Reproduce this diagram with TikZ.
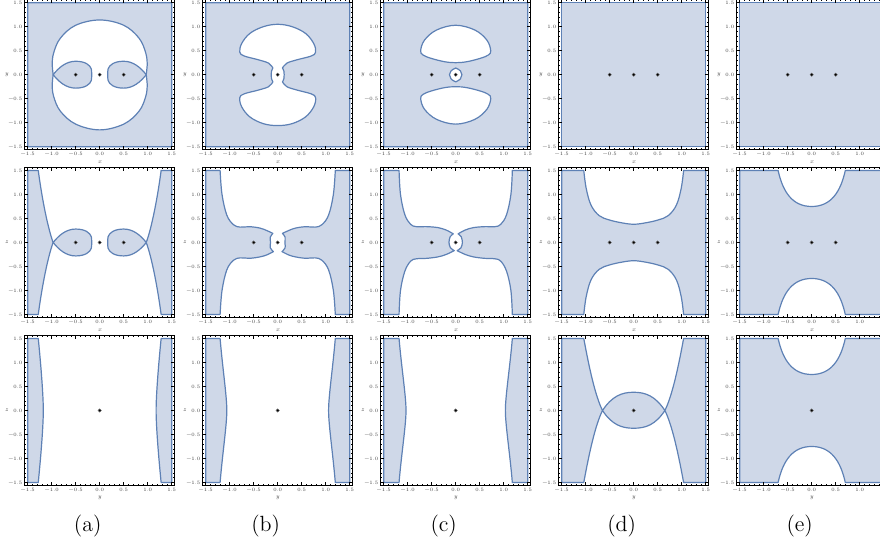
\documentclass[tikz,border=0pt]{standalone}
\usepackage{fontspec}
\usepackage{xcolor}
\usepackage{tikz}
\usetikzlibrary{calc}

\definecolor{zonefill}{RGB}{207,216,232}
\definecolor{zoneline}{RGB}{94,129,181}

\tikzset{
  region/.style={fill=zonefill, draw=zoneline, line width=0.6pt, line join=round},
  frame/.style={draw=black, line width=0.6pt},
  tick/.style={black, line width=0.3pt},
  ticklab/.style={inner sep=0pt, text=black!75, font=\fontsize{2.5}{3}\selectfont},
  axlab/.style={inner sep=0pt, text=black!75, font=\fontsize{3}{3.5}\selectfont\itshape},
  charge/.style={circle, fill=black, draw=black!55, line width=0.2pt, inner sep=0pt, minimum size=1.7pt},
  sublab/.style={inner sep=0pt, font=\fontsize{11}{13}\selectfont}
}

% cadre gradue : #1 nom, #2 axe horizontal, #3 axe vertical
\newcommand{\cadre}[3]{%
  \draw[frame] (-1.5625,-1.5625) rectangle (1.5625,1.5625);
  \foreach \t in {-15,...,15} {
    \draw[tick] ({\t/10},-1.5625) -- ++(0,0.035);
    \draw[tick] ({\t/10},1.5625) -- ++(0,-0.035);
    \draw[tick] (-1.5625,{\t/10}) -- ++(0.035,0);
    \draw[tick] (1.5625,{\t/10}) -- ++(-0.035,0);
  }
  \foreach \t in {-3,...,3} {
    \draw[tick] ({\t/2},-1.5625) -- ++(0,0.07);
    \draw[tick] ({\t/2},1.5625) -- ++(0,-0.07);
    \draw[tick] (-1.5625,{\t/2}) -- ++(0.07,0);
    \draw[tick] (1.5625,{\t/2}) -- ++(-0.07,0);
  }
  \foreach \t/\l [count=\i] in {-1.5/−1.5,-1/−1.0,-0.5/−0.5,0/0.0,0.5/0.5,1/1.0,1.5/1.5} {
    \node[ticklab, anchor=north, yshift=-1.2pt] (#1b\i) at (\t,-1.5625) {\l};
    \node[ticklab, anchor=east, xshift=-1pt] (#1g\i) at (-1.5625,\t) {\l};
  }
  \node[axlab, yshift=-6.3pt] (#1h) at (0,-1.5625) {#2};
  \node[axlab, xshift=-9pt] (#1v) at (-1.5625,0) {#3};
}

\begin{document}
\begin{tikzpicture}[x=0.5pt, y=0.5pt]
  \useasboundingbox (0,0) rectangle (880,545);

  % Ligne 1 : plan xy
  \begin{scope}[shift={(99.7,470.3)}, scale=48]
    \path[region, even odd rule] (-1.5,-1.5) rectangle (1.5,1.5)
      plot[smooth cycle, tension=0.6] coordinates {(0,1.14) (0.5,1.03) (0.82,0.76) (0.96,0.45) (0.99,0.2) (0.97,0) (0.99,-0.2) (0.96,-0.45) (0.82,-0.76) (0.5,-1.03) (0,-1.15) (-0.5,-1.03) (-0.82,-0.76) (-0.96,-0.45) (-0.99,-0.2) (-0.97,0) (-0.99,0.2) (-0.96,0.45) (-0.82,0.76) (-0.5,1.03)};
    \foreach \s in {-1,1}
      \draw[region, xscale=\s] (-0.97,0) .. controls (-0.85,0.15) and (-0.7,0.28) .. (-0.5,0.28) .. controls (-0.3,0.28) and (-0.2,0.2) .. (-0.175,0.12) .. controls (-0.163,0.06) and (-0.163,-0.06) .. (-0.175,-0.12) .. controls (-0.2,-0.2) and (-0.3,-0.28) .. (-0.5,-0.28) .. controls (-0.7,-0.28) and (-0.85,-0.15) .. (-0.97,0) -- cycle;
    \cadre{a1}{x}{y}
    \node[charge] (a1q1) at (-0.5,0) {};
    \node[charge] (a1q2) at (0,0) {};
    \node[charge] (a1q3) at (0.5,0) {};
  \end{scope}

  \begin{scope}[shift={(277.7,470.3)}, scale=48]
    \path[region, even odd rule] (-1.5,-1.5) rectangle (1.5,1.5)
      plot[smooth, tension=0.6] coordinates {(-0.1,0.14) (-0.19,0.24) (-0.4,0.31) (-0.7,0.39) (-0.79,0.47) (-0.75,0.65) (-0.58,0.86) (-0.3,1.0) (0,1.05) (0.3,1.0) (0.58,0.86) (0.75,0.65) (0.79,0.47) (0.7,0.39) (0.4,0.31) (0.19,0.24) (0.1,0.14)}
      -- plot[smooth] coordinates {(0.1,0.14) (0.13,0.07) (0.135,0) (0.13,-0.08) (0.1,-0.15)}
      -- plot[smooth, tension=0.6] coordinates {(0.1,-0.15) (0.19,-0.25) (0.4,-0.32) (0.7,-0.4) (0.79,-0.48) (0.75,-0.67) (0.58,-0.88) (0.3,-1.02) (0,-1.06) (-0.3,-1.02) (-0.58,-0.88) (-0.75,-0.67) (-0.79,-0.48) (-0.7,-0.4) (-0.4,-0.32) (-0.19,-0.25) (-0.1,-0.15)}
      -- plot[smooth] coordinates {(-0.1,-0.15) (-0.13,-0.08) (-0.135,0) (-0.13,0.07) (-0.1,0.14)} -- cycle;
    \cadre{b1}{x}{y}
    \node[charge] (b1q1) at (-0.5,0) {};
    \node[charge] (b1q2) at (0,0) {};
    \node[charge] (b1q3) at (0.5,0) {};
  \end{scope}

  \begin{scope}[shift={(455.7,470.3)}, scale=48]
    \path[region, even odd rule] (-1.5,-1.5) rectangle (1.5,1.5)
      plot[smooth cycle, tension=0.6] coordinates {(0,1.03) (0.4,0.93) (0.65,0.72) (0.73,0.5) (0.68,0.41) (0.51,0.34) (0.23,0.27) (0,0.25) (-0.23,0.27) (-0.51,0.34) (-0.68,0.41) (-0.73,0.5) (-0.65,0.72) (-0.4,0.93)}
      plot[smooth cycle, tension=0.6] coordinates {(0,-1.03) (0.4,-0.93) (0.65,-0.72) (0.73,-0.5) (0.68,-0.41) (0.51,-0.34) (0.23,-0.27) (0,-0.25) (-0.23,-0.27) (-0.51,-0.34) (-0.68,-0.41) (-0.73,-0.5) (-0.65,-0.72) (-0.4,-0.93)}
      (0,0.14) .. controls (0.09,0.1) and (0.13,0.06) .. (0.13,0) .. controls (0.13,-0.07) and (0.09,-0.11) .. (0,-0.15) .. controls (-0.09,-0.11) and (-0.13,-0.07) .. (-0.13,0) .. controls (-0.13,0.06) and (-0.09,0.1) .. (0,0.14) -- cycle;
    \cadre{c1}{x}{y}
    \node[charge] (c1q1) at (-0.5,0) {};
    \node[charge] (c1q2) at (0,0) {};
    \node[charge] (c1q3) at (0.5,0) {};
  \end{scope}

  \begin{scope}[shift={(633.7,470.3)}, scale=48]
    \draw[region] (-1.5,-1.5) rectangle (1.5,1.5);
    \cadre{d1}{x}{y}
    \node[charge] (d1q1) at (-0.5,0) {};
    \node[charge] (d1q2) at (0,0) {};
    \node[charge] (d1q3) at (0.5,0) {};
  \end{scope}

  \begin{scope}[shift={(811.7,470.3)}, scale=48]
    \draw[region] (-1.5,-1.5) rectangle (1.5,1.5);
    \cadre{e1}{x}{y}
    \node[charge] (e1q1) at (-0.5,0) {};
    \node[charge] (e1q2) at (0,0) {};
    \node[charge] (e1q3) at (0.5,0) {};
  \end{scope}

  % Ligne 2 : plan xz
  \begin{scope}[shift={(99.7,302.5)}, scale=48]
    \foreach \s in {-1,1} {
      \draw[region, xscale=\s] (-1.5,1.5) -- (-1.28,1.5) .. controls (-1.2,0.9) and (-1.08,0.3) .. (-0.97,0) .. controls (-1.08,-0.3) and (-1.2,-0.9) .. (-1.28,-1.5) -- (-1.5,-1.5) -- cycle;
      \draw[region, xscale=\s] (-0.97,0) .. controls (-0.85,0.15) and (-0.7,0.28) .. (-0.5,0.28) .. controls (-0.3,0.28) and (-0.2,0.2) .. (-0.175,0.12) .. controls (-0.163,0.06) and (-0.163,-0.06) .. (-0.175,-0.12) .. controls (-0.2,-0.2) and (-0.3,-0.28) .. (-0.5,-0.28) .. controls (-0.7,-0.28) and (-0.85,-0.15) .. (-0.97,0) -- cycle;
    }
    \cadre{a2}{x}{z}
    \node[charge] (a2q1) at (-0.5,0) {};
    \node[charge] (a2q2) at (0,0) {};
    \node[charge] (a2q3) at (0.5,0) {};
  \end{scope}

  \begin{scope}[shift={(277.7,302.5)}, scale=48]
    \foreach \s in {-1,1}
      \draw[region, xscale=\s] (-1.5,1.5)
        -- plot[smooth, tension=0.6] coordinates {(-1.2,1.5) (-1.16,1.0) (-1.06,0.57) (-0.92,0.37) (-0.78,0.32) (-0.58,0.33) (-0.37,0.3) (-0.23,0.25) (-0.1,0.19)}
        -- plot[smooth] coordinates {(-0.1,0.19) (-0.155,0.11) (-0.15,0) (-0.155,-0.11) (-0.09,-0.19)}
        -- plot[smooth, tension=0.6] coordinates {(-0.09,-0.19) (-0.23,-0.26) (-0.37,-0.3) (-0.58,-0.33) (-0.78,-0.32) (-0.92,-0.37) (-1.06,-0.57) (-1.16,-1.0) (-1.2,-1.5)}
        -- (-1.5,-1.5) -- cycle;
    \cadre{b2}{x}{z}
    \node[charge] (b2q1) at (-0.5,0) {};
    \node[charge] (b2q2) at (0,0) {};
    \node[charge] (b2q3) at (0.5,0) {};
  \end{scope}

  \begin{scope}[shift={(455.7,302.5)}, scale=48]
    \foreach \s in {-1,1}
      \draw[region, xscale=\s] (-1.5,1.5)
        -- plot[smooth, tension=0.6] coordinates {(-1.18,1.5) (-1.15,1.0) (-1.06,0.58) (-0.94,0.38) (-0.82,0.33) (-0.6,0.33) (-0.37,0.31) (-0.2,0.26) (-0.05,0.18)}
        -- plot[smooth] coordinates {(-0.05,0.18) (-0.115,0.12) (-0.14,0) (-0.11,-0.11) (-0.03,-0.17)}
        -- plot[smooth, tension=0.6] coordinates {(-0.03,-0.17) (-0.2,-0.25) (-0.37,-0.3) (-0.6,-0.33) (-0.82,-0.34) (-0.94,-0.39) (-1.06,-0.6) (-1.15,-1.0) (-1.18,-1.5)}
        -- (-1.5,-1.5) -- cycle;
    \cadre{c2}{x}{z}
    \node[charge] (c2q1) at (-0.5,0) {};
    \node[charge] (c2q2) at (0,0) {};
    \node[charge] (c2q3) at (0.5,0) {};
  \end{scope}

  \begin{scope}[shift={(633.7,302.5)}, scale=48]
    \draw[region] (-1.5,1.5)
      -- plot[smooth, tension=0.6] coordinates {(-1.04,1.5) (-0.99,1.13) (-0.89,0.78) (-0.72,0.56) (-0.51,0.47) (-0.25,0.41) (0,0.38) (0.25,0.41) (0.51,0.47) (0.72,0.56) (0.89,0.78) (0.99,1.13) (1.04,1.5)}
      -- (1.5,1.5) -- (1.5,-1.5)
      -- plot[smooth, tension=0.6] coordinates {(1.04,-1.5) (0.99,-1.13) (0.89,-0.78) (0.72,-0.56) (0.51,-0.47) (0.25,-0.41) (0,-0.38) (-0.25,-0.41) (-0.51,-0.47) (-0.72,-0.56) (-0.89,-0.78) (-0.99,-1.13) (-1.04,-1.5)}
      -- (-1.5,-1.5) -- cycle;
    \cadre{d2}{x}{z}
    \node[charge] (d2q1) at (-0.5,0) {};
    \node[charge] (d2q2) at (0,0) {};
    \node[charge] (d2q3) at (0.5,0) {};
  \end{scope}

  \begin{scope}[shift={(811.7,302.5)}, scale=48]
    \draw[region] (-1.5,1.5) -- (-0.7,1.5) .. controls (-0.6,1.05) and (-0.4,0.75) .. (0,0.75) .. controls (0.4,0.75) and (0.6,1.05) .. (0.7,1.5) -- (1.5,1.5) -- (1.5,-1.5) -- (0.7,-1.5) .. controls (0.6,-1.05) and (0.4,-0.75) .. (0,-0.75) .. controls (-0.4,-0.75) and (-0.6,-1.05) .. (-0.7,-1.5) -- (-1.5,-1.5) -- cycle;
    \cadre{e2}{x}{z}
    \node[charge] (e2q1) at (-0.5,0) {};
    \node[charge] (e2q2) at (0,0) {};
    \node[charge] (e2q3) at (0.5,0) {};
  \end{scope}

  % Ligne 3 : plan yz
  \begin{scope}[shift={(99.7,134.5)}, scale=48]
    \foreach \s in {-1,1}
      \draw[region, xscale=\s] (-1.5,1.5) -- (-1.28,1.5) .. controls (-1.22,0.9) and (-1.175,0.3) .. (-1.175,0) .. controls (-1.175,-0.3) and (-1.22,-0.9) .. (-1.28,-1.5) -- (-1.5,-1.5) -- cycle;
    \cadre{a3}{y}{z}
    \node[charge] (a3q) at (0,0) {};
  \end{scope}

  \begin{scope}[shift={(277.7,134.5)}, scale=48]
    \foreach \s in {-1,1}
      \draw[region, xscale=\s] (-1.5,1.5) -- (-1.2,1.5) .. controls (-1.15,0.9) and (-1.06,0.3) .. (-1.06,0) .. controls (-1.06,-0.3) and (-1.15,-0.9) .. (-1.2,-1.5) -- (-1.5,-1.5) -- cycle;
    \cadre{b3}{y}{z}
    \node[charge] (b3q) at (0,0) {};
  \end{scope}

  \begin{scope}[shift={(455.7,134.5)}, scale=48]
    \foreach \s in {-1,1}
      \draw[region, xscale=\s] (-1.5,1.5) -- (-1.18,1.5) .. controls (-1.13,0.9) and (-1.035,0.3) .. (-1.035,0) .. controls (-1.035,-0.3) and (-1.13,-0.9) .. (-1.18,-1.5) -- (-1.5,-1.5) -- cycle;
    \cadre{c3}{y}{z}
    \node[charge] (c3q) at (0,0) {};
  \end{scope}

  \begin{scope}[shift={(633.7,134.5)}, scale=48]
    \draw[region] (-1.5,1.5) -- (-1.04,1.5) .. controls (-0.93,0.9) and (-0.8,0.3) .. (-0.65,0)
      .. controls (-0.45,0.3) and (-0.25,0.38) .. (0,0.38) .. controls (0.25,0.38) and (0.45,0.3) .. (0.65,0)
      .. controls (0.8,0.3) and (0.93,0.9) .. (1.04,1.5) -- (1.5,1.5) -- (1.5,-1.5) -- (1.04,-1.5)
      .. controls (0.93,-0.9) and (0.8,-0.3) .. (0.65,0)
      .. controls (0.45,-0.3) and (0.25,-0.37) .. (0,-0.37) .. controls (-0.25,-0.37) and (-0.45,-0.3) .. (-0.65,0)
      .. controls (-0.8,-0.3) and (-0.93,-0.9) .. (-1.04,-1.5) -- (-1.5,-1.5) -- cycle;
    \cadre{d3}{y}{z}
    \node[charge] (d3q) at (0,0) {};
  \end{scope}

  \begin{scope}[shift={(811.7,134.5)}, scale=48]
    \draw[region] (-1.5,1.5) -- (-0.7,1.5) .. controls (-0.6,1.05) and (-0.4,0.75) .. (0,0.75) .. controls (0.4,0.75) and (0.6,1.05) .. (0.7,1.5) -- (1.5,1.5) -- (1.5,-1.5) -- (0.7,-1.5) .. controls (0.6,-1.05) and (0.4,-0.75) .. (0,-0.75) .. controls (-0.4,-0.75) and (-0.6,-1.05) .. (-0.7,-1.5) -- (-1.5,-1.5) -- cycle;
    \cadre{e3}{y}{z}
    \node[charge] (e3q) at (0,0) {};
  \end{scope}

  % Legendes
  \node[sublab] (laba) at (87.7,19) {(a)};
  \node[sublab] (labb) at (265.7,19) {(b)};
  \node[sublab] (labc) at (443.7,19) {(c)};
  \node[sublab] (labd) at (621.7,19) {(d)};
  \node[sublab] (labe) at (799.7,19) {(e)};
\end{tikzpicture}
\end{document}
